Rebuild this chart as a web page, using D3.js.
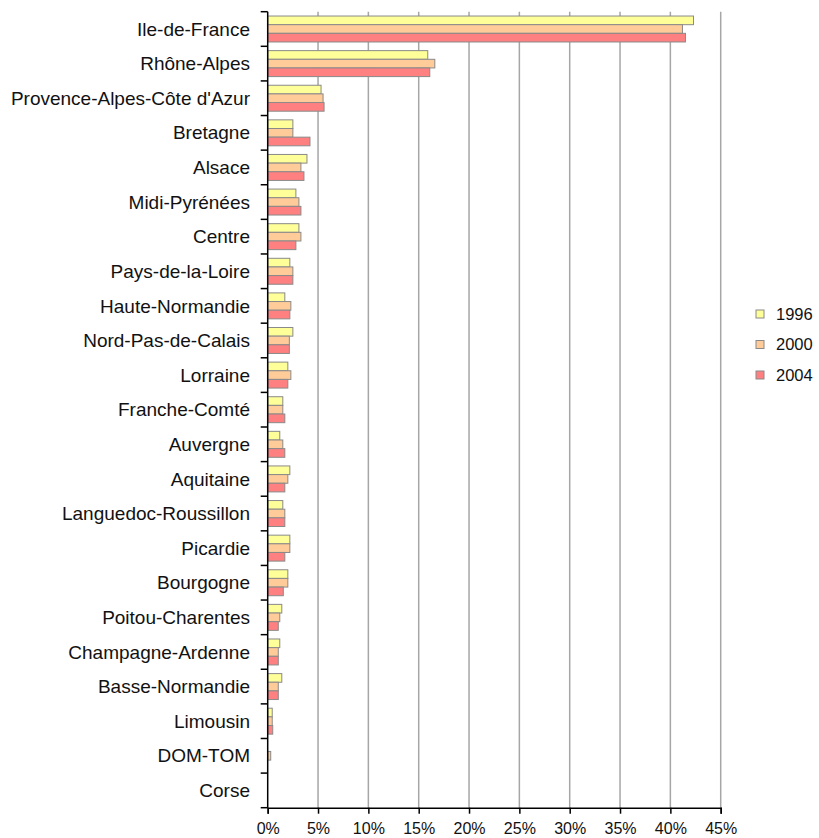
<!DOCTYPE html>
<html>
<head>
<meta charset="utf-8">
<script src="https://d3js.org/d3.v7.min.js"></script>
<style>
  body { margin: 0; background: #fff; }
  svg { font-family: "Liberation Sans", Arial, sans-serif; }
  .grid line { stroke: #a6a6a6; stroke-width: 1.5; }
  .bar { stroke: #8a8a8a; stroke-width: 1; }
</style>
</head>
<body>
<svg width="819" height="838"></svg>
<script>
// regions, top to bottom
var regions = ["Ile-de-France", "Rhône-Alpes", "Provence-Alpes-Côte d'Azur", "Bretagne",
  "Alsace", "Midi-Pyrénées", "Centre", "Pays-de-la-Loire", "Haute-Normandie",
  "Nord-Pas-de-Calais", "Lorraine", "Franche-Comté", "Auvergne", "Aquitaine",
  "Languedoc-Roussillon", "Picardie", "Bourgogne", "Poitou-Charentes",
  "Champagne-Ardenne", "Basse-Normandie", "Limousin", "DOM-TOM", "Corse"];

var years = ["1996", "2000", "2004"];
var colors = ["#ffff99", "#ffcc99", "#ff8080"];

// share in %
var v1996 = [42.3, 15.9, 5.3, 2.5, 3.9, 2.8, 3.1, 2.2, 1.7, 2.5, 2.0, 1.5, 1.2, 2.2,
  1.5, 2.2, 2.0, 1.4, 1.2, 1.4, 0.45, 0, 0];
var v2000 = [41.2, 16.6, 5.5, 2.5, 3.3, 3.1, 3.3, 2.5, 2.3, 2.15, 2.3, 1.5, 1.5, 2.0,
  1.7, 2.2, 2.0, 1.2, 1.05, 1.05, 0.45, 0.3, 0];
var v2004 = [41.5, 16.1, 5.6, 4.2, 3.6, 3.3, 2.8, 2.5, 2.2, 2.15, 2.0, 1.7, 1.7, 1.7,
  1.7, 1.7, 1.55, 1.05, 1.05, 1.05, 0.5, 0, 0];
var series = [v1996, v2000, v2004];

var xTicks = [0, 5, 10, 15, 20, 25, 30, 35, 40, 45];

var svg = d3.select("svg");
var plotLeft = 267.7, plotRight = 720.7, plotTop = 11.7, plotBottom = 807.7;

var x = d3.scaleLinear().domain([0, 45]).range([plotLeft, plotRight]);
var y0 = d3.scaleBand().domain(regions).range([plotTop, plotBottom])
    .paddingInner(0.25).paddingOuter(0.125);
var y1 = d3.scaleBand().domain(years).range([0, y0.bandwidth()]);

// gridlines
svg.append("g").attr("class", "grid")
  .selectAll("line")
  .data(xTicks.slice(1))
  .enter().append("line")
    .attr("x1", d => x(d)).attr("x2", d => x(d))
    .attr("y1", plotTop).attr("y2", plotBottom);

// bars
regions.forEach(function (r, i) {
  var g = svg.append("g").attr("transform", "translate(0," + y0(r) + ")");
  years.forEach(function (yr, j) {
    var v = series[j][i];
    if (v <= 0) return;
    g.append("rect")
      .attr("class", "bar")
      .attr("x", x(0))
      .attr("y", y1(yr))
      .attr("width", x(v) - x(0))
      .attr("height", y1.bandwidth())
      .attr("fill", colors[j]);
  });
});

// y axis with ticks between categories
var step = y0.step();
svg.append("line").attr("x1", plotLeft).attr("x2", plotLeft)
  .attr("y1", plotTop).attr("y2", plotBottom).attr("stroke", "#000").attr("stroke-width", 1.5);
svg.append("g").selectAll("line")
  .data(d3.range(regions.length + 1))
  .enter().append("line")
    .attr("x1", plotLeft - 7).attr("x2", plotLeft)
    .attr("y1", d => plotTop + d * step).attr("y2", d => plotTop + d * step)
    .attr("stroke", "#000").attr("stroke-width", 1.5);

svg.append("g").selectAll("text")
  .data(regions)
  .enter().append("text")
    .attr("x", 250)
    .attr("y", d => y0(d) + y0.bandwidth() / 2)
    .attr("dy", "0.35em")
    .attr("text-anchor", "end")
    .attr("font-size", 19)
    .attr("fill", "#111")
    .text(d => d);

// x axis
var xAxis = d3.axisBottom(x).tickValues(xTicks)
  .tickFormat(d => d + "%").tickSize(6).tickPadding(9);
var ax = svg.append("g").attr("transform", "translate(0," + plotBottom + ")").call(xAxis);
ax.select(".domain").attr("stroke", "#000").attr("stroke-width", 1.5);
ax.selectAll(".tick line").attr("stroke", "#000").attr("stroke-width", 1.5);
ax.selectAll(".tick text").attr("font-size", 16).attr("fill", "#111")
  .attr("font-family", "Liberation Sans, Arial, sans-serif");

// legend
var lg = svg.append("g").attr("transform", "translate(756,314)");
years.forEach(function (yr, j) {
  var row = lg.append("g").attr("transform", "translate(0," + j * 30.5 + ")");
  row.append("rect").attr("x", 0).attr("y", -4).attr("width", 8).attr("height", 8)
    .attr("fill", colors[j]).attr("stroke", "#8a8a8a");
  row.append("text").attr("x", 20).attr("dy", "0.35em")
    .attr("font-size", 16.5).attr("fill", "#111").text(yr);
});
</script>
</body>
</html>
